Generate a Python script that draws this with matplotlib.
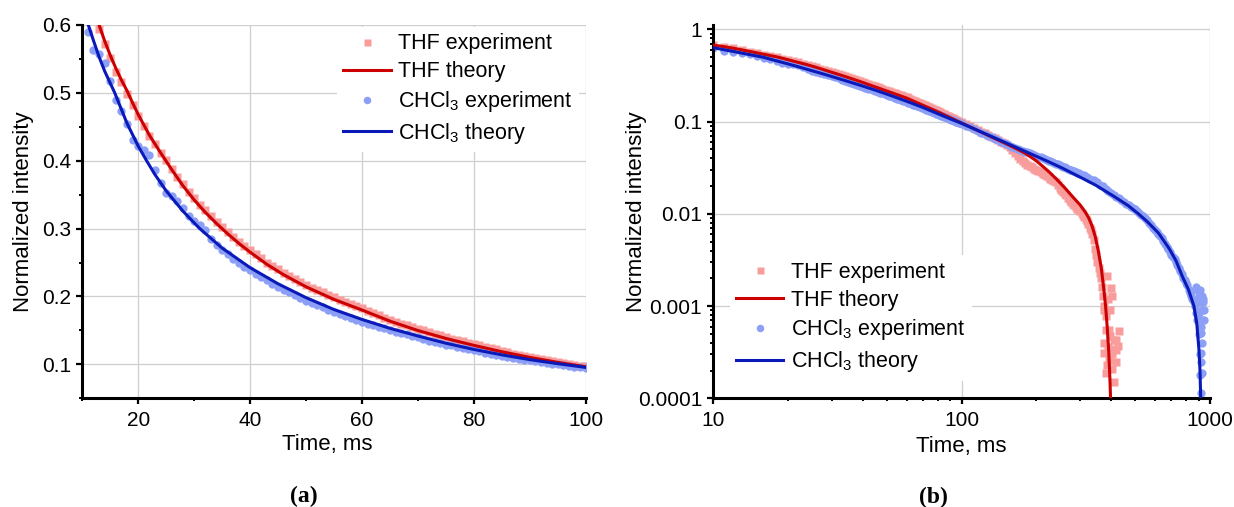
import matplotlib
matplotlib.use("Agg")
import matplotlib.pyplot as plt
from matplotlib.ticker import FixedLocator, LogLocator, NullFormatter, FuncFormatter

plt.rcParams['font.family'] = 'Liberation Sans'
plt.rcParams['mathtext.fontset'] = 'custom'
plt.rcParams['mathtext.rm'] = 'Liberation Sans'
plt.rcParams['mathtext.it'] = 'Liberation Sans:italic'
plt.rcParams['mathtext.bf'] = 'Liberation Sans:bold'
plt.rcParams['mathtext.default'] = 'regular'

# THF experiment, 10..100 ms (both panels)
thf_exp_t = [10, 11, 12, 13, 14, 15, 16, 17, 18, 19, 20, 21, 22, 23, 24, 25, 26, 27, 28, 29,
             30, 31, 32, 33, 34, 35, 36, 37, 38, 39, 40, 41, 42, 43, 44, 45, 46, 47, 48, 49,
             50, 51, 52, 53, 54, 55, 56, 57, 58, 59, 60, 61, 62, 63, 64, 65, 66, 67, 68, 69,
             70, 71, 72, 73, 74, 75, 76, 77, 78, 79, 80, 81, 82, 83, 84, 85, 86, 87, 88, 89,
             90, 91, 92, 93, 94, 95, 96, 97, 98, 99, 100]
thf_exp_v = [0.672, 0.648, 0.621, 0.594, 0.572, 0.552, 0.531, 0.516, 0.499, 0.482,
             0.466, 0.451, 0.437, 0.424, 0.412, 0.401, 0.388, 0.376, 0.365, 0.354,
             0.345, 0.335, 0.327, 0.318, 0.310, 0.303, 0.295, 0.288, 0.281, 0.275,
             0.268, 0.262, 0.256, 0.250, 0.245, 0.240, 0.235, 0.230, 0.226, 0.221,
             0.217, 0.213, 0.209, 0.206, 0.202, 0.199, 0.195, 0.192, 0.189, 0.186,
             0.183, 0.179, 0.176, 0.172, 0.169, 0.166, 0.163, 0.160, 0.158, 0.155,
             0.152, 0.150, 0.147, 0.145, 0.143, 0.140, 0.138, 0.136, 0.134, 0.132,
             0.130, 0.128, 0.126, 0.124, 0.122, 0.120, 0.118, 0.116, 0.114, 0.113,
             0.111, 0.109, 0.108, 0.106, 0.105, 0.104, 0.102, 0.101, 0.0995, 0.0982, 0.0970]

# THF experiment beyond 100 ms (log panel only)
thf_exp_t2 = [104, 108, 112, 116, 120, 124, 128, 132, 136, 140, 144, 148, 152, 156, 160,
              164, 168, 172, 176, 180, 184, 188, 192, 196, 200, 204, 208, 212, 216, 220,
              224, 228, 232, 236, 240, 244, 248, 252, 256, 260, 264, 268, 272, 276, 280,
              284, 288, 292, 296, 300, 304, 308, 312, 316, 320, 324, 328, 332, 336, 340,
              344, 348, 352, 356, 360, 364, 368, 372, 376, 380,
              386, 398, 405, 374, 380, 430, 417, 375, 374, 425, 392, 380, 417, 410,
              395, 388, 402, 385, 420, 405, 392, 410, 398, 390, 395]
thf_exp_v2 = [0.093, 0.089, 0.085, 0.0815, 0.078, 0.075, 0.0715, 0.0685, 0.066, 0.063,
              0.0605, 0.058, 0.0555, 0.0525, 0.049, 0.0455, 0.042, 0.0395, 0.0372, 0.0352,
              0.0338, 0.0328, 0.0318, 0.0305, 0.0298, 0.029, 0.0282, 0.0272, 0.0266, 0.0258,
              0.025, 0.024, 0.0234, 0.0226, 0.022, 0.0205, 0.019, 0.018, 0.0172, 0.0165,
              0.0158, 0.0148, 0.014, 0.0135, 0.0128, 0.0124, 0.0118, 0.0114, 0.011, 0.0106,
              0.0101, 0.0096, 0.0092, 0.0088, 0.0083, 0.0077, 0.0071, 0.0066, 0.006, 0.0052,
              0.0042, 0.0036, 0.003, 0.0026, 0.0023, 0.002, 0.0016, 0.0013, 0.001, 0.00078,
              0.0021, 0.00156, 0.00127, 0.00091, 0.00055, 0.00053, 0.00043, 0.0004, 0.00031,
              0.00037, 0.00026, 0.000187, 0.00025, 0.000152,
              0.00047, 0.00036, 0.0003, 0.00023, 0.00033, 0.00021, 0.00055, 0.00043,
              0.00034, 0.0012, 0.0009]

# THF theory
thf_th_t = [10, 11, 12, 13, 14, 15, 16, 17, 18, 19, 20, 22, 24, 26, 28, 30, 32, 34, 36, 38,
            40, 43, 46, 50, 55, 60, 65, 70, 75, 80, 85, 90, 95, 100, 110, 120, 135, 150,
            165, 180, 187, 200, 210, 225, 239, 260, 280, 300, 315, 325, 335, 345, 355,
            365, 373, 380, 386, 391, 395, 398, 400]
thf_th_v = [0.675, 0.650, 0.625, 0.600, 0.5764, 0.5553, 0.5362, 0.5188, 0.5030, 0.4851,
            0.4680, 0.4376, 0.4117, 0.3868, 0.3631, 0.3423, 0.3239, 0.3075, 0.2923, 0.2782,
            0.2653, 0.2474, 0.2320, 0.2143, 0.1957, 0.1801, 0.1637, 0.1499, 0.1382, 0.1280,
            0.1186, 0.1103, 0.1030, 0.0965, 0.0858, 0.0768, 0.0661, 0.0580, 0.0512, 0.0455,
            0.0425, 0.0375, 0.0335, 0.0285, 0.0243, 0.0192, 0.0153, 0.0125, 0.0104, 0.0090,
            0.0074, 0.0057, 0.0040, 0.0026, 0.0016, 0.0010, 0.00058, 0.00033, 0.00018,
            0.0001, 0.00004]

# CHCl3 experiment, 10..100 ms
chcl_exp_t = thf_exp_t
chcl_exp_v = [0.625, 0.589, 0.563, 0.558, 0.544, 0.517, 0.490, 0.4735, 0.4544, 0.430,
              0.421, 0.416, 0.408, 0.387, 0.367, 0.3525, 0.3475, 0.340, 0.330, 0.318,
              0.311, 0.306, 0.2985, 0.284, 0.2765, 0.269, 0.262, 0.255, 0.249, 0.244,
              0.239, 0.233, 0.228, 0.224, 0.219, 0.214, 0.209, 0.206, 0.202, 0.198,
              0.194, 0.190, 0.187, 0.184, 0.180, 0.177, 0.174, 0.171, 0.168, 0.166,
              0.163, 0.160, 0.158, 0.155, 0.153, 0.151, 0.148, 0.146, 0.144, 0.142,
              0.140, 0.138, 0.135, 0.133, 0.131, 0.129, 0.128, 0.126, 0.124, 0.122,
              0.1205, 0.119, 0.117, 0.1155, 0.114, 0.1125, 0.111, 0.1097, 0.1083, 0.107,
              0.1057, 0.1045, 0.1033, 0.1022, 0.1011, 0.1000, 0.0989, 0.0978, 0.0968,
              0.0958, 0.0948]

# CHCl3 experiment beyond 100 ms
chcl_exp_t2 = [104, 108, 112, 116, 120, 124, 128, 132, 136, 140, 144, 148, 152, 156, 160,
               164, 168, 172, 176, 180, 184, 188, 192, 196, 200, 204, 208, 212, 216, 220,
               224, 228, 232, 236, 240, 244, 248, 252, 256, 260, 264, 268, 272, 276, 280,
               284, 288, 292, 296, 300, 310, 320, 330, 340, 350, 360, 370, 380, 390, 400,
               410, 420, 430, 440, 450, 460, 470, 480, 490, 500, 510, 520, 530, 540, 550,
               560, 570, 580, 590, 600, 610, 620, 630, 640, 650, 660, 670, 680, 690, 700,
               710, 720, 730, 740, 750, 760, 770, 780, 790, 800, 810, 820, 830, 840, 850,
               860, 870, 880, 890, 900, 910, 915,
               888, 918, 903, 918, 918, 931, 918, 925, 930, 910, 935, 920, 928, 922,
               900, 880, 912, 925, 950, 945, 940]
chcl_exp_v2 = [0.0905, 0.0868, 0.0832, 0.0795, 0.0752, 0.0725, 0.0700, 0.0675, 0.0648,
               0.0628, 0.0605, 0.0585, 0.0566, 0.0550, 0.0532, 0.0518, 0.0505, 0.0492,
               0.0482, 0.0472, 0.0462, 0.0455, 0.0446, 0.0437, 0.0428, 0.0418, 0.0410,
               0.0400, 0.0392, 0.0385, 0.0378, 0.0370, 0.0362, 0.0355, 0.0350, 0.0343,
               0.0338, 0.0332, 0.0325, 0.0320, 0.0313, 0.0308, 0.0302, 0.0297, 0.0292,
               0.0288, 0.0283, 0.0280, 0.0276, 0.0272, 0.0262, 0.0252, 0.0240, 0.0230,
               0.0220, 0.0207, 0.0198, 0.0188, 0.0178, 0.0168, 0.0160, 0.0153, 0.0147,
               0.0140, 0.0134, 0.0128, 0.0124, 0.0120, 0.0116, 0.0112, 0.0106, 0.0103,
               0.0098, 0.0094, 0.0090, 0.0085, 0.0080, 0.0076, 0.0071, 0.0067, 0.0063,
               0.0060, 0.0057, 0.0054, 0.0051, 0.0047, 0.0044, 0.0042, 0.0039, 0.0036,
               0.0034, 0.0032, 0.0030, 0.0028, 0.0026, 0.0024, 0.0022, 0.0020, 0.0019,
               0.0018, 0.0017, 0.0015, 0.0014, 0.0013, 0.0012, 0.0011, 0.0010, 0.00085,
               0.00070, 0.00050, 0.00030, 0.00018,
               0.0015, 0.00117, 0.00084, 0.00051, 0.00031, 0.000187, 0.000114, 0.0009,
               0.0007, 0.0011, 0.0012, 0.0006, 0.0004, 0.00025, 0.0013, 0.0016, 0.0015,
               0.0013, 0.0009, 0.0007, 0.0011]

# CHCl3 theory
chcl_th_t = [10, 11, 12, 13, 14, 15.8, 18, 20, 21.5, 23, 25, 28, 31, 35, 40, 45, 50, 55,
             60, 65, 70, 75, 80, 85, 90, 95, 100, 120, 137, 160, 187, 220, 255, 300, 347,
             410, 470, 515, 560, 620, 685, 730, 774, 820, 862, 885, 903, 912, 918, 921]
chcl_th_v = [0.632, 0.602, 0.577, 0.553, 0.532, 0.500, 0.455, 0.4215, 0.400, 0.3795,
             0.3556, 0.3257, 0.300, 0.2713, 0.2425, 0.2187, 0.1983, 0.1808, 0.1662, 0.1531,
             0.1418, 0.1312, 0.1220, 0.1140, 0.1070, 0.1010, 0.0955, 0.0770, 0.0660, 0.0548,
             0.0455, 0.0375, 0.0312, 0.0250, 0.0204, 0.0155, 0.0122, 0.0100, 0.0082, 0.0062,
             0.0042, 0.0031, 0.0021, 0.0015, 0.0010, 0.00065, 0.00034, 0.0002, 0.0001,
             0.00005]

C_THF_EXP = '#F89C9C'
C_THF = '#CC0000'
C_CHCL_EXP = '#8C9FF7'
C_CHCL = '#0A1AB8'


def draw_series(ax, te, ve, tc, vc):
    ax.plot(te, ve, 's', ms=5.6, color=C_THF_EXP, mec='none', zorder=2, label='THF experiment')
    ax.plot(thf_th_t, thf_th_v, '-', color=C_THF, lw=2.2, zorder=3, label='THF theory')
    ax.plot(tc, vc, 'o', ms=6, color=C_CHCL_EXP, mec='none', zorder=2.1,
            label='CHCl$_3$ experiment')
    ax.plot(chcl_th_t, chcl_th_v, '-', color=C_CHCL, lw=2.2, zorder=3.1,
            label='CHCl$_3$ theory')


def style_axes(ax):
    ax.spines['top'].set_visible(False)
    ax.spines['right'].set_visible(False)
    for s in ('left', 'bottom'):
        ax.spines[s].set_linewidth(2.2)
    ax.tick_params(which='major', direction='out', length=4, width=1.6, labelsize=15)
    ax.tick_params(which='minor', direction='out', length=2.3, width=1.4)
    ax.tick_params(axis='x', which='major', pad=5)
    ax.tick_params(axis='y', which='major', pad=4)
    ax.grid(True, which='major', color='#CFCFCF', lw=0.9)
    ax.set_axisbelow(True)


def add_legend(ax, x, y):
    ax.legend(loc='upper left', bbox_to_anchor=(x, y), bbox_transform=ax.figure.transFigure,
              borderaxespad=0, fontsize=15.5, frameon=True, fancybox=False,
              edgecolor='none', facecolor='white', framealpha=1, handlelength=2.2,
              handletextpad=0.35, labelspacing=0.32, borderpad=0.3, numpoints=1,
              markerscale=0.9)


fig = plt.figure(figsize=(12.34, 5.07), dpi=100)

# (a) linear
ax1 = fig.add_axes([0.0667, 0.2144, 0.4079, 0.7363])
draw_series(ax1, thf_exp_t, thf_exp_v, chcl_exp_t, chcl_exp_v)
ax1.set_xlim(10, 100)
ax1.set_ylim(0.05, 0.6)
ax1.xaxis.set_major_locator(FixedLocator([20, 40, 60, 80, 100]))
ax1.xaxis.set_minor_locator(FixedLocator([10, 30, 50, 70, 90]))
ax1.yaxis.set_major_locator(FixedLocator([0.1, 0.2, 0.3, 0.4, 0.5, 0.6]))
ax1.yaxis.set_minor_locator(FixedLocator([0.05, 0.15, 0.25, 0.35, 0.45, 0.55]))
ax1.yaxis.set_major_formatter(FuncFormatter(lambda v, p: '%g' % v))
style_axes(ax1)
ax1.set_xlabel('Time, ms', fontsize=16)
ax1.set_ylabel('Normalized intensity', fontsize=16)
ax1.xaxis.set_label_coords(0.4868, -0.0956)
ax1.yaxis.set_label_coords(-0.0967, 0.5)
add_legend(ax1, 0.2729, 0.9471)

# (b) log-log
ax2 = fig.add_axes([0.5780, 0.2144, 0.4025, 0.7363])
draw_series(ax2, thf_exp_t + thf_exp_t2, thf_exp_v + thf_exp_v2,
            chcl_exp_t + chcl_exp_t2, chcl_exp_v + chcl_exp_v2)
ax2.set_xscale('log')
ax2.set_yscale('log')
ax2.set_xlim(10, 1000)
ax2.set_ylim(1e-4, 1.114)
ax2.xaxis.set_major_locator(LogLocator(base=10, numticks=10))
ax2.xaxis.set_minor_locator(LogLocator(base=10, subs=range(2, 10), numticks=100))
ax2.yaxis.set_major_locator(LogLocator(base=10, numticks=10))
ax2.yaxis.set_minor_locator(LogLocator(base=10, subs=range(2, 10), numticks=100))
ax2.xaxis.set_major_formatter(FuncFormatter(lambda v, p: '%g' % v))
ax2.yaxis.set_major_formatter(FuncFormatter(lambda v, p: '%g' % v))
ax2.xaxis.set_minor_formatter(NullFormatter())
ax2.yaxis.set_minor_formatter(NullFormatter())
style_axes(ax2)
ax2.set_xlabel('Time, ms', fontsize=16)
ax2.set_ylabel('Normalized intensity', fontsize=16)
ax2.xaxis.set_label_coords(0.4997, -0.1)
ax2.yaxis.set_label_coords(-0.134, 0.5)
add_legend(ax2, 0.5912, 0.4966)

fig.text(0.2464, 0.021, '(a)', family='Liberation Serif', weight='bold', fontsize=17,
         ha='center', va='center')
fig.text(0.7561, 0.019, '(b)', family='Liberation Serif', weight='bold', fontsize=17,
         ha='center', va='center')

fig.savefig('out.png', dpi=100)
